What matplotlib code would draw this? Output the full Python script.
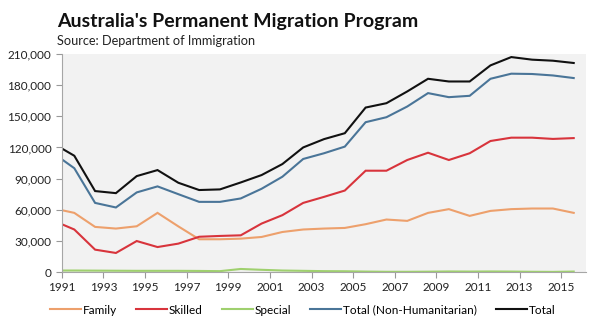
import matplotlib.pyplot as plt
from matplotlib.ticker import FuncFormatter

plt.rcParams['font.family'] = ['Lato', 'DejaVu Sans']

# x positions of the data points (first point sits on the 1991 tick)
years = [1991.0, 1991.6, 1992.6, 1993.6, 1994.6, 1995.6, 1996.6, 1997.6, 1998.6,
         1999.6, 2000.6, 2001.6, 2002.6, 2003.6, 2004.6, 2005.6, 2006.6, 2007.6,
         2008.6, 2009.6, 2010.6, 2011.6, 2012.6, 2013.6, 2014.6, 2015.6]

family = [59600, 57000, 43500, 41900, 44100, 57000, 44000, 31600, 31600, 32200,
          33800, 38600, 41000, 41900, 42500, 46100, 50600, 49300, 57000, 60600,
          54100, 58900, 60600, 61200, 61200, 57000]
skilled = [46100, 41000, 21600, 18400, 29900, 24100, 27400, 34000, 34800, 35400,
           46700, 54800, 66600, 72400, 78500, 97600, 97600, 107900, 114900, 107900,
           114400, 126200, 129400, 129400, 128200, 129000]
special = [1500, 1500, 1400, 1300, 1200, 1200, 1200, 1100, 900, 3000,
           2200, 1500, 1200, 900, 800, 500, 300, 300, 400, 600,
           500, 600, 500, 300, 200, 500]
total_nh = [108600, 100000, 66600, 62200, 76700, 82500, 75000, 67600, 67600, 70900,
            80200, 91800, 108900, 114400, 120800, 144300, 149100, 159400, 172300, 168400,
            169700, 186100, 191000, 190700, 189300, 186800]
total = [119000, 112000, 78000, 76000, 92400, 98200, 86000, 79000, 79600, 86300,
         93400, 104000, 120000, 128000, 133700, 158400, 162600, 173900, 186100, 183500,
         183500, 199000, 207000, 204500, 203500, 201300]

series_names = ['Family', 'Skilled', 'Special', 'Total (Non-Humanitarian)', 'Total']
series_colors = ['#eda06c', '#d8343c', '#9fd06e', '#4a7598', '#111111']
xtick_years = list(range(1991, 2016, 2))
ytick_vals = list(range(0, 210001, 30000))

fig = plt.figure(figsize=(6.0, 3.29), dpi=100)
ax = fig.add_axes([0.103, 0.173, 0.874, 0.663])
ax.set_facecolor('#f2f2f2')

for vals, name, col in zip([family, skilled, special, total_nh, total],
                           series_names, series_colors):
    ax.plot(years, vals, color=col, lw=1.5, label=name, solid_joinstyle='miter')

ax.set_xlim(1991, 2016.2)
ax.set_ylim(0, 210000)
ax.set_xticks(xtick_years)
ax.set_yticks(ytick_vals)
ax.yaxis.set_major_formatter(FuncFormatter(lambda v, p: '{:,.0f}'.format(v)))
ax.tick_params(axis='both', labelsize=8.5, colors='#999999', labelcolor='#222222',
               length=4, width=0.8)
ax.tick_params(axis='x', pad=3)
for s in ['top', 'right']:
    ax.spines[s].set_visible(False)
for s in ['left', 'bottom']:
    ax.spines[s].set_color('#a6a6a6')
    ax.spines[s].set_linewidth(0.8)

fig.text(0.095, 0.918, "Australia's Permanent Migration Program", fontsize=14,
         fontweight='bold', color='#111111')
fig.text(0.095, 0.862, 'Source: Department of Immigration', fontsize=9.2,
         color='#222222')

ax.legend(loc='upper center', bbox_to_anchor=(0.46, -0.1), ncol=5, frameon=False,
          fontsize=8.5, handlelength=2.6, handletextpad=0.2, columnspacing=1.6)

fig.savefig('out.png', dpi=100, facecolor='white')
